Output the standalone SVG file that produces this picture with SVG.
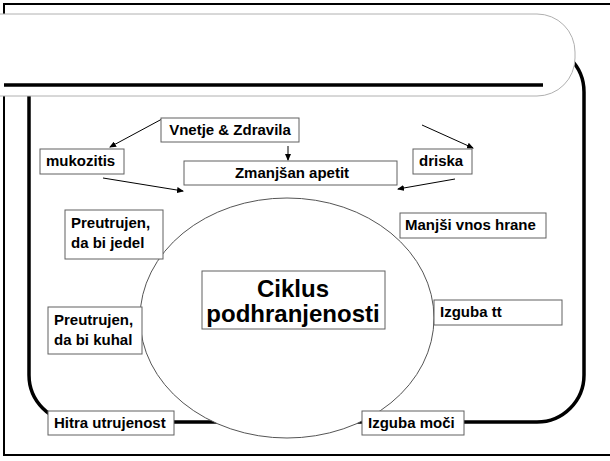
<svg xmlns="http://www.w3.org/2000/svg" width="610" height="461" viewBox="0 0 610 461">
<style>
.box{fill:#fff;stroke:#606060;stroke-width:1}
.t{font-family:"Liberation Sans",Arial,sans-serif;font-weight:bold;font-size:15px;fill:#000}
.big{font-size:24px}
.conn{stroke:#000;stroke-width:1;fill:none}
</style>
<defs>
<marker id="ah" markerWidth="7" markerHeight="6" refX="6" refY="3" orient="auto" markerUnits="userSpaceOnUse">
<path d="M0,0 L7,3 L0,6 Z" fill="#000"/>
</marker>
</defs>
<rect x="0" y="0" width="610" height="461" fill="#fff"/>
<rect x="4" y="4" width="620" height="451" fill="none" stroke="#000" stroke-width="2"/>
<rect id="loop" x="29" y="45" width="555" height="377" rx="47" ry="47" fill="none" stroke="#000" stroke-width="3.5"/>
<rect id="titlebar" x="-40" y="14" width="615" height="82" rx="38" ry="38" fill="#fff" stroke="#b0b0b0" stroke-width="1"/>
<line x1="4" y1="85" x2="543" y2="85" stroke="#000" stroke-width="3.5"/>
<ellipse id="cycle" cx="287" cy="318" rx="147" ry="120" fill="#fff" stroke="#555" stroke-width="1"/>
<g id="connectors">
<line class="conn" x1="162" y1="119" x2="110" y2="147" marker-end="url(#ah)"/>
<line class="conn" x1="288" y1="146" x2="288" y2="160" marker-end="url(#ah)"/>
<line class="conn" x1="103" y1="178" x2="183" y2="191" marker-end="url(#ah)"/>
<line class="conn" x1="422" y1="125" x2="473" y2="148" marker-end="url(#ah)"/>
<line class="conn" x1="455" y1="179" x2="398" y2="189" marker-end="url(#ah)"/>
</g>
<g id="vnetje"><rect class="box" x="161" y="118" width="138" height="24"/><text class="t" x="230" y="135" text-anchor="middle">Vnetje &amp; Zdravila</text></g>
<g id="mukozitis"><rect class="box" x="40" y="149" width="84" height="25"/><text class="t" x="46" y="166">mukozitis</text></g>
<g id="zmanjsan"><rect class="box" x="184" y="161" width="213" height="24"/><text class="t" x="292" y="178" text-anchor="middle">Zmanjšan apetit</text></g>
<g id="driska"><rect class="box" x="413" y="149" width="59" height="25"/><text class="t" x="419" y="166">driska</text></g>
<g id="jedel"><rect class="box" x="65" y="210" width="98" height="49"/><text class="t" x="71" y="228">Preutrujen,</text><text class="t" x="71" y="248">da bi jedel</text></g>
<g id="manjsi"><rect class="box" x="400" y="213" width="146" height="25"/><text class="t" x="405" y="230">Manjši vnos hrane</text></g>
<g id="ciklus"><rect class="box" x="202" y="271" width="183" height="58"/><text class="t big" x="293" y="297" text-anchor="middle">Ciklus</text><text class="t big" x="293" y="322" text-anchor="middle">podhranjenosti</text></g>
<g id="kuhal"><rect class="box" x="48" y="307" width="94" height="47"/><text class="t" x="54" y="325">Preutrujen,</text><text class="t" x="54" y="345">da bi kuhal</text></g>
<g id="izgubatt"><rect class="box" x="434" y="300" width="128" height="25"/><text class="t" x="440" y="317">Izguba tt</text></g>
<g id="hitra"><rect class="box" x="48" y="411" width="126" height="24"/><text class="t" x="54" y="428">Hitra utrujenost</text></g>
<g id="moci"><rect class="box" x="362" y="411" width="102" height="24"/><text class="t" x="368" y="428">Izguba moči</text></g>
</svg>
